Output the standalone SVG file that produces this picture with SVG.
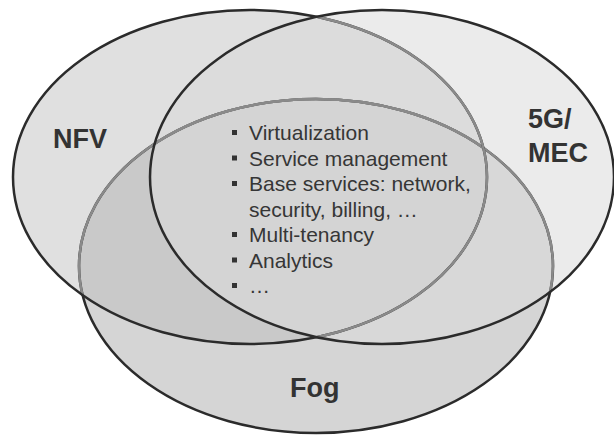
<svg xmlns="http://www.w3.org/2000/svg" width="614" height="436" viewBox="0 0 614 436">
  <style>
    .dark { fill: none; stroke: #2b2b2b; stroke-width: 2.5; }
    .grey { fill: none; stroke: #8a8a8a; stroke-width: 2.5; }
    .label { font-family: "Liberation Sans", Arial, sans-serif; font-weight: bold; font-size: 27px; fill: #333333; }
    .item { font-family: "Liberation Sans", Arial, sans-serif; font-size: 21px; fill: #363636; }
    .bullet { fill: #333333; }
  </style>
  <defs>
    <ellipse id="eNFV" cx="250" cy="177" rx="237" ry="167"/>
    <ellipse id="e5G" cx="382" cy="177" rx="232" ry="167"/>
    <ellipse id="eFog" cx="316" cy="266" rx="237" ry="167"/>
    <clipPath id="cNFV"><use href="#eNFV"/></clipPath>
    <clipPath id="c5G"><use href="#e5G"/></clipPath>
    <clipPath id="cFog"><use href="#eFog"/></clipPath>
  </defs>
  <rect width="614" height="436" fill="#ffffff"/>

  <g id="fills">
    <use href="#eNFV" fill="#e0e0e0"/>
    <use href="#e5G" fill="#ebebeb"/>
    <g clip-path="url(#cNFV)"><use href="#e5G" fill="#dcdcdc"/></g>
    <use href="#eFog" fill="#d5d5d5"/>
    <g clip-path="url(#cNFV)"><use href="#eFog" fill="#c9c9c9"/></g>
    <g clip-path="url(#c5G)"><use href="#eFog" fill="#d8d8d8"/></g>
    <g clip-path="url(#cNFV)"><g clip-path="url(#c5G)"><use href="#eFog" fill="#d4d4d4"/></g></g>
  </g>

  <g id="fog">
    <use href="#eFog" class="dark"/>
    <g clip-path="url(#cNFV)"><use href="#eFog" class="grey"/></g>
    <g clip-path="url(#c5G)"><use href="#eFog" class="grey"/></g>
    <text class="label" x="290" y="397">Fog</text>
  </g>

  <g id="nfv">
    <use href="#eNFV" class="dark"/>
    <g clip-path="url(#c5G)"><use href="#eNFV" class="grey"/></g>
    <text class="label" x="53" y="148">NFV</text>
  </g>

  <g id="mec">
    <use href="#e5G" class="dark"/>
    <text class="label" x="528" y="128">5G/</text>
    <text class="label" x="528" y="162">MEC</text>
  </g>

  <g id="list">
    <rect class="bullet" x="232" y="130" width="5" height="5"/>
    <text class="item" x="249" y="140">Virtualization</text>
    <rect class="bullet" x="232" y="155.5" width="5" height="5"/>
    <text class="item" x="249" y="165.5">Service management</text>
    <rect class="bullet" x="232" y="181" width="5" height="5"/>
    <text class="item" x="249" y="191">Base services: network,</text>
    <text class="item" x="249" y="216.5">security, billing, …</text>
    <rect class="bullet" x="232" y="232" width="5" height="5"/>
    <text class="item" x="249" y="242">Multi-tenancy</text>
    <rect class="bullet" x="232" y="257.5" width="5" height="5"/>
    <text class="item" x="249" y="267.5">Analytics</text>
    <rect class="bullet" x="232" y="283" width="5" height="5"/>
    <text class="item" x="249" y="293">…</text>
  </g>
</svg>
